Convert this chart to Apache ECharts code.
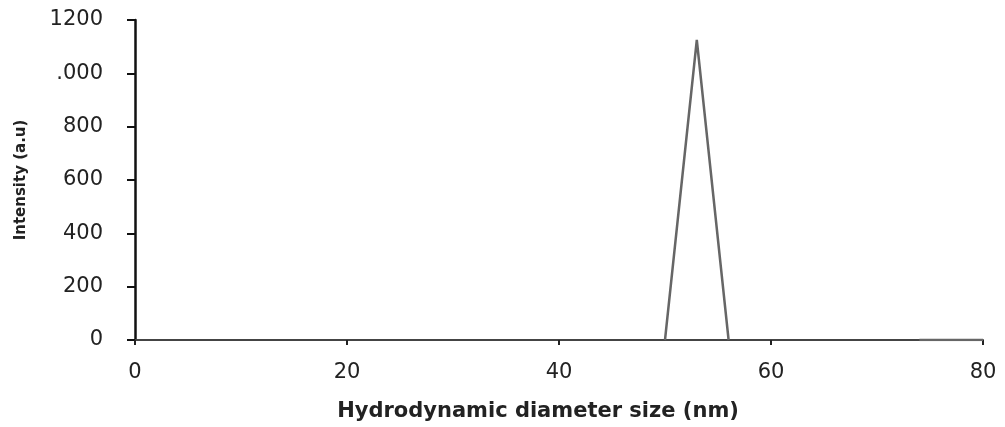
<!DOCTYPE html>
<html>
<head>
<meta charset="utf-8">
<script src="https://cdn.jsdelivr.net/npm/echarts@6/dist/echarts.min.js"></script>
<style>html,body{margin:0;padding:0;background:#fff}#c{width:1005px;height:427px}</style>
</head>
<body>
<div id="c"></div>
<script>
var sizes = [50, 53, 56, null, 74, 80];
var intensity = [0, 1125, 0, null, 0, 0];
var yTickLabels = {0:'0',200:'200',400:'400',600:'600',800:'800',1000:'.000',1200:'1200'};
var xTitle = 'Hydrodynamic diameter size (nm)';
var yTitle = 'Intensity (a.u)';

var data = sizes.map(function(s, i){ return s === null ? [null, null] : [s, intensity[i]]; });
var chart = echarts.init(document.getElementById('c'));
chart.setOption({
  animation: false,
  grid: {left: 135, right: 22, top: 20, bottom: 87},
  xAxis: {
    type: 'value', min: 0, max: 80, interval: 20,
    name: xTitle, nameLocation: 'middle', nameGap: 61,
    nameTextStyle: {fontFamily: 'DejaVu Sans', fontWeight: 'bold', fontSize: 21, color: '#222', padding: [0, 42, 0, 0]},
    axisLine: {lineStyle: {color: '#444', width: 2}},
    axisTick: {show: true, length: 5, lineStyle: {color: '#222', width: 2}},
    axisLabel: {fontFamily: 'DejaVu Sans', fontSize: 21, color: '#222', margin: 22},
    splitLine: {show: false}
  },
  yAxis: {
    type: 'value', min: 0, max: 1200, interval: 200,
    name: yTitle, nameLocation: 'middle', nameGap: 106, nameRotate: 90,
    nameTextStyle: {fontFamily: 'DejaVu Sans', fontWeight: 'bold', fontSize: 15, color: '#222'},
    axisLine: {show: true, lineStyle: {color: '#111', width: 2.5}},
    axisTick: {show: true, length: 8, lineStyle: {color: '#111', width: 2}},
    axisLabel: {fontFamily: 'DejaVu Sans', fontSize: 21, color: '#222', margin: 32,
      formatter: function(v){ return yTickLabels[v] !== undefined ? yTickLabels[v] : String(v); }},
    splitLine: {show: false}
  },
  series: [{
    type: 'line', data: data, symbol: 'none', connectNulls: false,
    lineStyle: {color: '#666', width: 2.5}
  }]
});
</script>
</body>
</html>
